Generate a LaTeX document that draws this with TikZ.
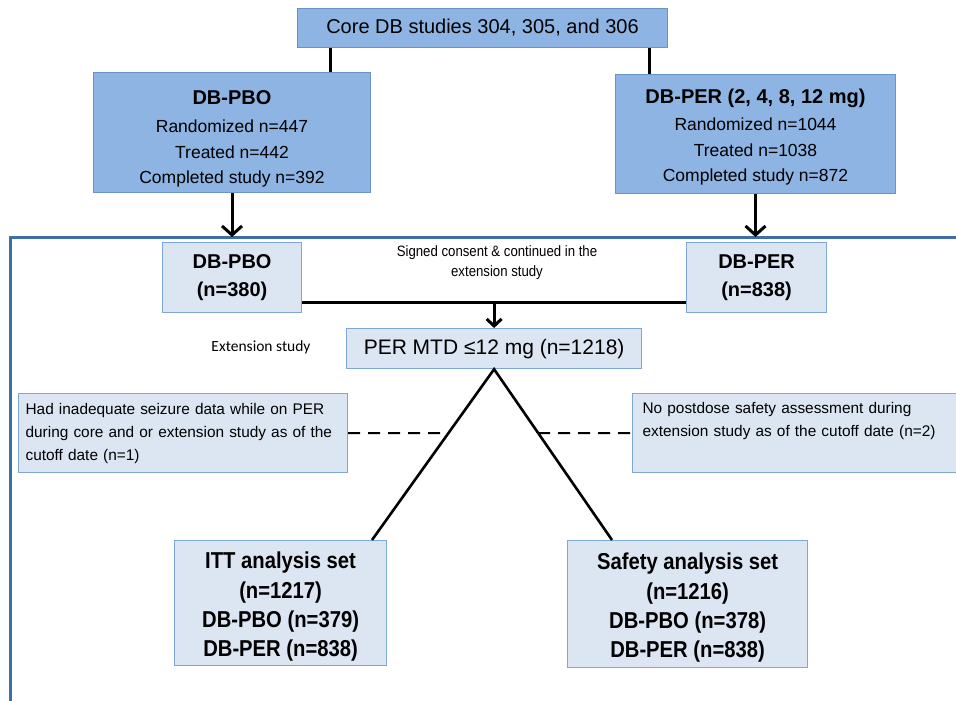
\documentclass[tikz,border=0pt]{standalone}
\usepackage{fontspec}
\setmainfont{Liberation Sans}
\newfontfamily\narrowfont[FakeStretch=0.88]{Liberation Sans}
\newfontfamily\calfont{Carlito}
\usetikzlibrary{arrows.meta,calc}
\definecolor{midblue}{HTML}{8DB4E2}
\definecolor{midborder}{HTML}{6A93C8}
\definecolor{lightfill}{HTML}{DCE6F2}
\definecolor{lightborder}{HTML}{7FA7D9}
\definecolor{framecol}{HTML}{3F6DA8}
\begin{document}
\begin{tikzpicture}[x=1pt,y=-1pt,
  topbox/.style={draw=midborder, fill=midblue, line width=1pt, inner sep=0pt, anchor=north west, align=center},
  lightbox/.style={draw=lightborder, fill=lightfill, line width=1.2pt, inner sep=0pt, anchor=north west, align=center},
  conn/.style={line width=3pt, black},
  arr/.style={conn, -{Straight Barb[length=9pt,width=20pt]}},
  smallarr/.style={conn, -{Straight Barb[length=7pt,width=15pt]}},
  tri/.style={line width=2.6pt, black},
  dashline/.style={line width=1.8pt, black, dash pattern=on 12pt off 8pt},
  bigtxt/.style={font=\fontsize{17.5}{25.5}\selectfont},
  smallbold/.style={font=\fontsize{20}{28}\selectfont\bfseries},
  narrowbold/.style={font=\fontsize{23}{29.3}\selectfont\narrowfont\bfseries},
  exclbox/.style={lightbox, inner xsep=7pt, align=left, font=\fontsize{15.4}{23}\selectfont}
]
\useasboundingbox (0,0) rectangle (956,701);
\fill[white] (0,0) rectangle (956,701);

% frame
\coordinate (fbl) at (10,703);
\coordinate (ftl) at (10,237);
\coordinate (ftr) at (960,237);
\draw[framecol, line width=3pt] (fbl) -- (ftl) -- (ftr);

% top boxes
\node[topbox, minimum width=370pt, minimum height=39pt, font=\fontsize{20}{24}\selectfont] (top) at (297,8) {Core DB studies 304, 305, and 306};
\node[topbox, minimum width=277pt, minimum height=120pt, bigtxt] (pbo) at (93,72)
  {{\fontsize{20}{25.5}\selectfont\bfseries\rule{0pt}{27pt}DB-PBO}\\[3pt]Randomized n=447\\Treated n=442\\Completed study n=392};
\node[topbox, minimum width=280pt, minimum height=119pt, bigtxt] (per) at (615,74)
  {{\fontsize{20}{25.5}\selectfont\bfseries\rule{0pt}{21pt}DB-PER (2, 4, 8, 12 mg)}\\[2pt]Randomized n=1044\\Treated n=1038\\Completed study n=872};

\coordinate (c1) at (330,0);
\coordinate (c2) at (649,0);
\draw[conn] (top.south -| c1) -- (pbo.north -| c1);
\draw[conn] (top.south -| c2) -- (per.north -| c2);
\draw[arr] (pbo.south) -- (pbo.south |- ftl);
\draw[arr] (per.south) -- (per.south |- ftl);

% extension boxes
\node[lightbox, minimum width=139pt, minimum height=70pt, smallbold] (spbo) at (162,242) {DB-PBO\\(n=380)};
\node[lightbox, minimum width=140pt, minimum height=70pt, smallbold] (sper) at (686,242) {DB-PER\\(n=838)};
\node[font=\fontsize{15}{20}\selectfont\narrowfont, align=center, inner sep=0pt] (consent) at (497,263) {Signed consent \& continued in the\\extension study};
\node[font=\fontsize{15.5}{18}\selectfont\calfont, inner sep=0pt] (extlabel) at (261,347) {Extension study};

\node[lightbox, minimum width=295pt, minimum height=40pt, font=\fontsize{21}{25}\selectfont] (mtd) at (346,328) {PER MTD ≤12 mg (n=1218)};

\coordinate (y302) at (0,302);
\draw[conn] (spbo.east |- y302) -- (sper.west |- y302);
\draw[smallarr] (mtd.north |- y302) -- (mtd.north);

% exclusion boxes
\node[exclbox, minimum width=329pt, minimum height=79pt, text width=315pt] (exl) at (18,393)
  {Had inadequate seizure data while on PER\\during core and or extension study as of the\\cutoff date (n=1)};
\node[exclbox, inner xsep=10pt, minimum width=332pt, minimum height=79pt, text width=312pt] (exr) at (632,393)
  {\rule{0pt}{14pt}No postdose safety assessment during\\extension study as of the cutoff date (n=2)\\\strut};

% analysis sets
\node[lightbox, minimum width=212pt, minimum height=125pt, narrowbold] (itt) at (174,540)
  {\rule{0pt}{24pt}ITT analysis set\\(n=1217)\\DB-PBO (n=379)\\DB-PER (n=838)};
\node[lightbox, minimum width=240pt, minimum height=127pt, narrowbold] (saf) at (567,540)
  {\rule{0pt}{24pt}Safety analysis set\\(n=1216)\\DB-PBO (n=378)\\DB-PER (n=838)};

\coordinate (lx) at (372,0);
\coordinate (rx) at (612,0);
\coordinate (lend) at (itt.north -| lx);
\coordinate (rend) at (saf.north -| rx);
\draw[tri, line join=miter] (lend) -- (mtd.south) -- (rend);

\draw[dashline] (exl.east) -- (intersection of exl.east--exr.west and mtd.south--lend);
\draw[dashline] (intersection of exl.east--exr.west and mtd.south--rend) -- (exr.west);
\end{tikzpicture}
\end{document}
